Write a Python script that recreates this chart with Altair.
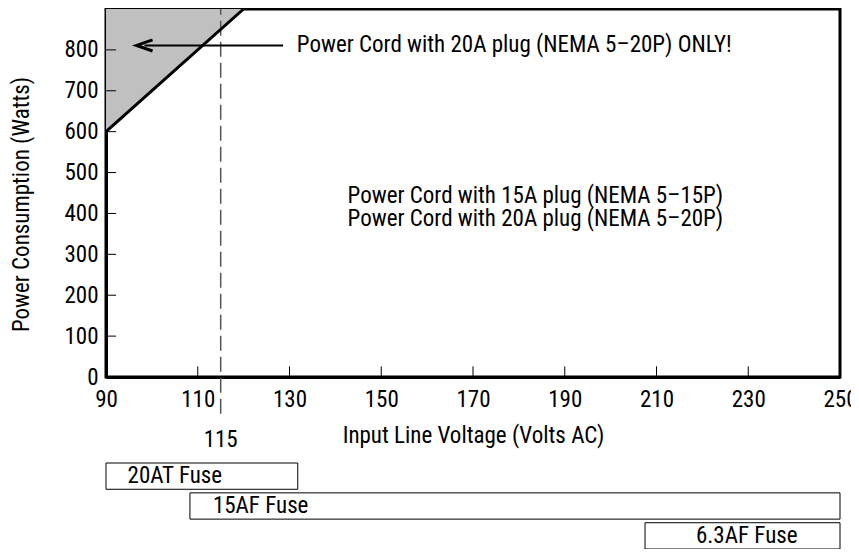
import altair as alt
import pandas as pd

FONT = "Roboto Condensed, Liberation Sans Narrow, DejaVu Sans Condensed, sans-serif"
FS = 23

# axis labels / ticks
x_labels = [90, 110, 130, 150, 170, 190, 210, 230, 250]
y_labels = [0, 100, 200, 300, 400, 500, 600, 700, 800]
x_inner_ticks = [110, 130, 150, 170, 190, 210, 230]
y_inner_ticks = [100, 200, 300, 400, 500, 600, 700, 800]
x_tick_len = [0, 26]        # in watts (inner tick length)
y_tick_len = [90, 92.2]     # in volts (inner tick length)

# shaded 20A-only region
region_x = [90, 120]
region_low = [600, 900]
region_top = [900, 900]

# nominal voltage marker
nominal_voltage = [115]
dash_low = [-90]
dash_high = [900]
nominal_label = ["115"]
nominal_label_y = [-155]

# arrow annotation
arrow_from = [128.6]
arrow_to = [98.4]
arrow_y = [811]
note_text = ["Power Cord with 20A plug (NEMA 5\u201320P) ONLY!"]
note_x = [131.6]

# middle annotation
cord_text = ["Power Cord with 15A plug (NEMA 5\u201315P)",
             "Power Cord with 20A plug (NEMA 5\u201320P)"]
cord_x = [183.6, 183.6]
cord_y = [443, 387]

# fuses
fuse_names = ["20AT Fuse", "15AF Fuse", "6.3AF Fuse"]
fuse_start = [90, 108.3, 207.5]
fuse_end = [131.8, 250, 250]
fuse_label_x = [94.7, 113.3, 218.6]

W, H = 734, 368
xs = alt.Scale(domain=[90, 250], nice=False, zero=False)
ys = alt.Scale(domain=[0, 900], nice=False, zero=False)

x_axis = alt.Axis(title="Input Line Voltage (Volts AC)", values=x_labels, ticks=False, tickSize=0,
                  grid=False, domainWidth=3, domainColor="black", labelFont=FONT, labelFontSize=FS,
                  labelColor="black", titleFont=FONT, titleFontSize=FS, titleFontWeight="normal",
                  titleColor="black", labelPadding=11, titlePadding=13, labelFlush=False)
y_axis = alt.Axis(title="Power Consumption (Watts)", values=y_labels, ticks=False, tickSize=0,
                  grid=False, domainWidth=3, domainColor="black", labelFont=FONT, labelFontSize=FS,
                  labelColor="black", titleFont=FONT, titleFontSize=FS, titleFontWeight="normal",
                  titleColor="black", labelPadding=8, titlePadding=30, labelFlush=False,
                  titleY=195, titleAnchor="middle")

df_region = pd.DataFrame({"v": region_x, "w": region_low, "top": region_top})
area = alt.Chart(df_region).mark_area(color="#c0c0c0").encode(
    x=alt.X("v:Q", scale=xs, axis=x_axis),
    y=alt.Y("w:Q", scale=ys, axis=y_axis),
    y2="top:Q",
)
edge = alt.Chart(df_region).mark_line(color="black", strokeWidth=3).encode(
    x=alt.X("v:Q", scale=xs), y=alt.Y("w:Q", scale=ys))

xt = alt.Chart(pd.DataFrame({"v": x_inner_ticks, "a": x_tick_len[0], "b": x_tick_len[1]})).mark_rule(
    strokeWidth=1, color="black").encode(
    x=alt.X("v:Q", scale=xs), y=alt.Y("a:Q", scale=ys), y2="b:Q")
yt = alt.Chart(pd.DataFrame({"w": y_inner_ticks, "a": y_tick_len[0], "b": y_tick_len[1]})).mark_rule(
    strokeWidth=1, color="black").encode(
    y=alt.Y("w:Q", scale=ys), x=alt.X("a:Q", scale=xs), x2="b:Q")

df_dash = pd.DataFrame({"v": nominal_voltage, "lo": dash_low, "hi": dash_high,
                        "t": nominal_label, "ty": nominal_label_y})
dash = alt.Chart(df_dash).mark_rule(color="#555555", strokeWidth=1.5, strokeDash=[15, 6]).encode(
    x=alt.X("v:Q", scale=xs), y=alt.Y("lo:Q", scale=ys), y2="hi:Q")
dash_label = alt.Chart(df_dash).mark_text(font=FONT, fontSize=FS, color="black",
                                          baseline="middle", align="center").encode(
    x=alt.X("v:Q", scale=xs), y=alt.Y("ty:Q", scale=ys), text="t:N")

df_arrow = pd.DataFrame({"a": arrow_from, "b": arrow_to, "y": arrow_y, "t": note_text, "nx": note_x})
shaft = alt.Chart(df_arrow).mark_rule(color="black", strokeWidth=2).encode(
    x=alt.X("a:Q", scale=xs), x2="b:Q", y=alt.Y("y:Q", scale=ys))
head = alt.Chart(df_arrow).mark_point(shape="M 1 -0.7 L -1 0 L 1 0.7", filled=False, size=256,
                                      stroke="black", strokeWidth=3, opacity=1).encode(
    x=alt.X("b:Q", scale=xs), y=alt.Y("y:Q", scale=ys))
note = alt.Chart(df_arrow).mark_text(font=FONT, fontSize=FS, color="black", align="left",
                                     baseline="middle").encode(
    x=alt.X("nx:Q", scale=xs), y=alt.Y("y:Q", scale=ys), text="t:N")

df_cord = pd.DataFrame({"t": cord_text, "x": cord_x, "y": cord_y})
cord = alt.Chart(df_cord).mark_text(font=FONT, fontSize=FS, color="black", align="center",
                                    baseline="middle").encode(
    x=alt.X("x:Q", scale=xs), y=alt.Y("y:Q", scale=ys), text="t:N")

top = alt.layer(area, xt, yt, dash, edge, shaft, head, note, cord, dash_label).properties(
    width=W, height=H, view=alt.ViewBackground(stroke="black", strokeWidth=3))

df_fuse = pd.DataFrame({"f": fuse_names, "s": fuse_start, "e": fuse_end, "lx": fuse_label_x})
fys = alt.Scale(domain=fuse_names, paddingInner=0.12, paddingOuter=0)
fxs = alt.Scale(domain=[90, 250], nice=False, zero=False)
boxes = alt.Chart(df_fuse).mark_rect(fill="white", stroke="black", strokeWidth=1).encode(
    x=alt.X("s:Q", scale=fxs, axis=None), x2="e:Q",
    y=alt.Y("f:N", scale=fys, axis=None, sort=fuse_names))
labels = alt.Chart(df_fuse).mark_text(font=FONT, fontSize=FS, color="black", align="left",
                                      baseline="middle").encode(
    x=alt.X("lx:Q", scale=fxs, axis=None),
    y=alt.Y("f:N", scale=fys, axis=None, sort=fuse_names), text="f:N")
bottom = alt.layer(boxes, labels).properties(width=W, height=86,
                                             view=alt.ViewBackground(stroke=None))

chart = alt.vconcat(top, bottom, spacing=86, bounds="flush").properties(
    padding={"left": 1, "top": -7, "right": -8, "bottom": -1}
).configure_view(stroke=None).configure(background="white")

chart.save("out.html", embed_options={"renderer": "svg", "actions": False})
